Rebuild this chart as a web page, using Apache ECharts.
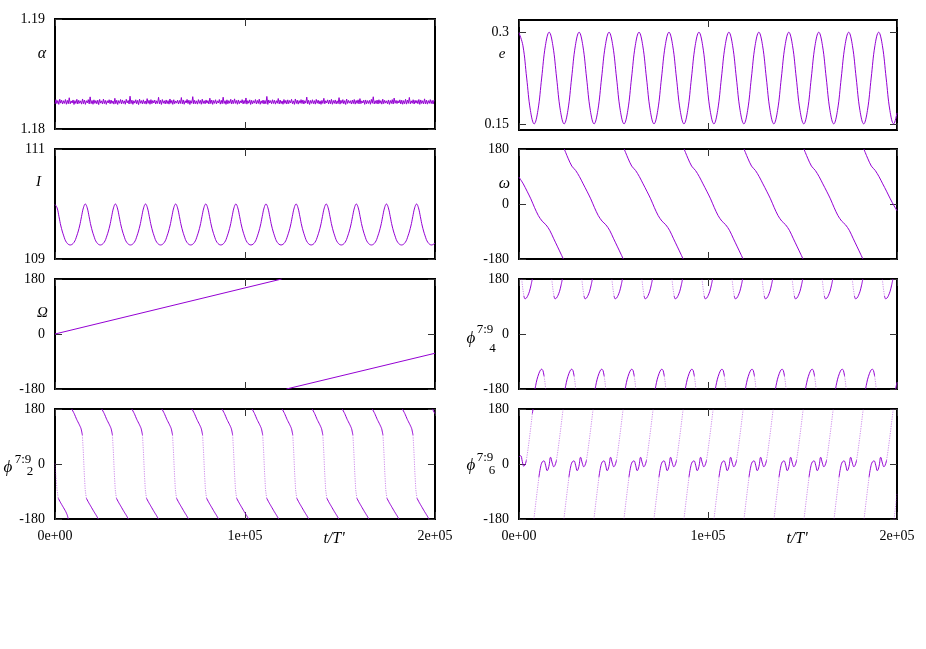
<!DOCTYPE html>
<html><head><meta charset="utf-8">
<script src="https://cdn.jsdelivr.net/npm/echarts@6/dist/echarts.min.js"></script>
<style>html,body{margin:0;padding:0;background:#fff}#c{width:926px;height:649px}</style>
</head><body><div id="c"></div>
<script>
// ---------- data ----------
const timeTicks = [0, 100000, 200000];
const alphaTicks = [1.18, 1.19];
const eTicks = [0.15, 0.3];
const incTicks = [109, 111];
const angleTicks = [-180, 0, 180];

const alphaStep = 500;
const alphaValues = [
1.18228,1.18266,1.18231,1.18259,1.18224,1.18271,1.18235,1.18262,1.18227,1.18257,
1.18233,1.18268,1.18225,1.18260,1.18230,1.18284,1.18229,1.18255,1.18236,1.18264,
1.18223,1.18258,1.18232,1.18270,1.18227,1.18261,1.18234,1.18256,1.18226,1.18273,
1.18230,1.18263,1.18224,1.18257,1.18237,1.18267,1.18228,1.18292,1.18231,1.18259,
1.18225,1.18265,1.18233,1.18258,1.18229,1.18262,1.18222,1.18269,1.18235,1.18256,
1.18227,1.18272,1.18231,1.18260,1.18224,1.18257,1.18236,1.18266,1.18229,1.18263,
1.18233,1.18255,1.18226,1.18279,1.18230,1.18261,1.18223,1.18258,1.18234,1.18268,
1.18228,1.18264,1.18232,1.18256,1.18225,1.18270,1.18237,1.18259,1.18227,1.18298,
1.18231,1.18262,1.18224,1.18257,1.18235,1.18266,1.18229,1.18260,1.18222,1.18271,
1.18234,1.18258,1.18228,1.18265,1.18231,1.18255,1.18226,1.18276,1.18233,1.18261,
1.18225,1.18267,1.18230,1.18259,1.18236,1.18263,1.18227,1.18256,1.18232,1.18288,
1.18229,1.18261,1.18223,1.18268,1.18234,1.18257,1.18228,1.18264,1.18231,1.18258,
1.18226,1.18273,1.18233,1.18260,1.18224,1.18266,1.18230,1.18255,1.18235,1.18262,
1.18227,1.18259,1.18232,1.18286,1.18229,1.18264,1.18225,1.18257,1.18236,1.18269,
1.18231,1.18262,1.18223,1.18258,1.18234,1.18294,1.18228,1.18261,1.18230,1.18256,
1.18226,1.18267,1.18233,1.18260,1.18225,1.18271,1.18232,1.18257,1.18229,1.18264,
1.18235,1.18258,1.18227,1.18280,1.18231,1.18263,1.18224,1.18259,1.18233,1.18266,
1.18228,1.18256,1.18236,1.18268,1.18226,1.18261,1.18230,1.18289,1.18232,1.18257,
1.18224,1.18265,1.18229,1.18258,1.18234,1.18270,1.18227,1.18262,1.18231,1.18274,
1.18233,1.18259,1.18225,1.18264,1.18230,1.18256,1.18236,1.18267,1.18228,1.18260,
1.18231,1.18282,1.18226,1.18258,1.18234,1.18265,1.18223,1.18261,1.18229,1.18257,
1.18235,1.18268,1.18228,1.18260,1.18232,1.18271,1.18225,1.18256,1.18233,1.18263,
1.18227,1.18259,1.18230,1.18296,1.18224,1.18264,1.18236,1.18258,1.18229,1.18266,
1.18232,1.18261,1.18226,1.18257,1.18234,1.18277,1.18228,1.18263,1.18231,1.18255,
1.18225,1.18268,1.18233,1.18260,1.18227,1.18265,1.18230,1.18259,1.18236,1.18270,
1.18229,1.18256,1.18224,1.18273,1.18232,1.18262,1.18226,1.18258,1.18234,1.18267,
1.18231,1.18264,1.18227,1.18257,1.18235,1.18290,1.18229,1.18261,1.18223,1.18259,
1.18233,1.18266,1.18230,1.18258,1.18226,1.18269,1.18234,1.18262,1.18228,1.18256,
1.18224,1.18260,1.18232,1.18279,1.18229,1.18257,1.18236,1.18265,1.18227,1.18263,
1.18230,1.18270,1.18225,1.18259,1.18233,1.18264,1.18228,1.18256,1.18231,1.18285,
1.18226,1.18261,1.18234,1.18267,1.18229,1.18258,1.18223,1.18272,1.18232,1.18260,
1.18235,1.18257,1.18227,1.18263,1.18231,1.18268,1.18226,1.18259,1.18233,1.18265,
1.18228,1.18276,1.18230,1.18256,1.18236,1.18262,1.18224,1.18264,1.18229,1.18258,
1.18232,1.18260,1.18225,1.18269,1.18234,1.18293,1.18228,1.18257,1.18231,1.18263,
1.18227,1.18266,1.18233,1.18258,1.18226,1.18271,1.18230,1.18261,1.18235,1.18256,
1.18229,1.18264,1.18224,1.18259,1.18232,1.18267,1.18227,1.18281,1.18234,1.18260,
1.18231,1.18257,1.18236,1.18265,1.18228,1.18262,1.18225,1.18258,1.18230,1.18270,
1.18226,1.18263,1.18233,1.18287,1.18229,1.18256,1.18234,1.18266,1.18227,1.18261,
1.18235,1.18259,1.18230,1.18268,1.18224,1.18264,1.18232,1.18257,1.18228,1.18274,
1.18229,1.18262,1.18226,1.18258,1.18233,1.18267,1.18231,1.18260,1.18227,1.18264
];

const eData = [
[0,0.299],[100,0.300],[2080,0.278],[4060,0.225],[6040,0.172],[8030,0.150],[10010,0.172],[11990,0.225],[13970,0.278],
[15950,0.300],[17930,0.278],[19910,0.225],[21890,0.172],[23880,0.150],[25860,0.172],[27840,0.225],[29820,0.278],
[31800,0.300],[33780,0.278],[35760,0.225],[37740,0.172],[39730,0.150],[41710,0.172],[43690,0.225],[45670,0.278],
[47650,0.300],[49630,0.278],[51610,0.225],[53590,0.172],[55580,0.150],[57560,0.172],[59540,0.225],[61520,0.278],
[63500,0.300],[65480,0.278],[67460,0.225],[69440,0.172],[71430,0.150],[73410,0.172],[75390,0.225],[77370,0.278],
[79350,0.300],[81330,0.278],[83310,0.225],[85290,0.172],[87280,0.150],[89260,0.172],[91240,0.225],[93220,0.278],
[95200,0.300],[97180,0.278],[99160,0.225],[101140,0.172],[103130,0.150],[105110,0.172],[107090,0.225],[109070,0.278],
[111050,0.300],[113030,0.278],[115010,0.225],[116990,0.172],[118980,0.150],[120960,0.172],[122940,0.225],[124920,0.278],
[126900,0.300],[128880,0.278],[130860,0.225],[132840,0.172],[134830,0.150],[136810,0.172],[138790,0.225],[140770,0.278],
[142750,0.300],[144730,0.278],[146710,0.225],[148690,0.172],[150680,0.150],[152660,0.172],[154640,0.225],[156620,0.278],
[158600,0.300],[160580,0.278],[162560,0.225],[164540,0.172],[166530,0.150],[168510,0.172],[170490,0.225],[172470,0.278],
[174450,0.300],[176430,0.278],[178410,0.225],[180390,0.172],[182380,0.150],[184360,0.172],[186340,0.225],[188320,0.278],
[190300,0.300],[192280,0.278],[194260,0.225],[196240,0.172],[198230,0.150],[200000,0.168]
];

const incData = [
[0,109.99],[100,110.00],[1100,109.93],[2100,109.77],[3100,109.60],[4600,109.42],[6100,109.30],[8025,109.255],[9950,109.30],[11450,109.42],[12950,109.60],[13950,109.77],[14950,109.93],
[15950,110.00],[16950,109.93],[17950,109.77],[18950,109.60],[20450,109.42],[21950,109.30],[23875,109.255],[25800,109.30],[27300,109.42],[28800,109.60],[29800,109.77],[30800,109.93],
[31800,110.00],[32800,109.93],[33800,109.77],[34800,109.60],[36300,109.42],[37800,109.30],[39725,109.255],[41650,109.30],[43150,109.42],[44650,109.60],[45650,109.77],[46650,109.93],
[47650,110.00],[48650,109.93],[49650,109.77],[50650,109.60],[52150,109.42],[53650,109.30],[55575,109.255],[57500,109.30],[59000,109.42],[60500,109.60],[61500,109.77],[62500,109.93],
[63500,110.00],[64500,109.93],[65500,109.77],[66500,109.60],[68000,109.42],[69500,109.30],[71425,109.255],[73350,109.30],[74850,109.42],[76350,109.60],[77350,109.77],[78350,109.93],
[79350,110.00],[80350,109.93],[81350,109.77],[82350,109.60],[83850,109.42],[85350,109.30],[87275,109.255],[89200,109.30],[90700,109.42],[92200,109.60],[93200,109.77],[94200,109.93],
[95200,110.00],[96200,109.93],[97200,109.77],[98200,109.60],[99700,109.42],[101200,109.30],[103125,109.255],[105050,109.30],[106550,109.42],[108050,109.60],[109050,109.77],[110050,109.93],
[111050,110.00],[112050,109.93],[113050,109.77],[114050,109.60],[115550,109.42],[117050,109.30],[118975,109.255],[120900,109.30],[122400,109.42],[123900,109.60],[124900,109.77],[125900,109.93],
[126900,110.00],[127900,109.93],[128900,109.77],[129900,109.60],[131400,109.42],[132900,109.30],[134825,109.255],[136750,109.30],[138250,109.42],[139750,109.60],[140750,109.77],[141750,109.93],
[142750,110.00],[143750,109.93],[144750,109.77],[145750,109.60],[147250,109.42],[148750,109.30],[150675,109.255],[152600,109.30],[154100,109.42],[155600,109.60],[156600,109.77],[157600,109.93],
[158600,110.00],[159600,109.93],[160600,109.77],[161600,109.60],[163100,109.42],[164600,109.30],[166525,109.255],[168450,109.30],[169950,109.42],[171450,109.60],[172450,109.77],[173450,109.93],
[174450,110.00],[175450,109.93],[176450,109.77],[177450,109.60],[178950,109.42],[180450,109.30],[182375,109.255],[184300,109.30],[185800,109.42],[187300,109.60],[188300,109.77],[189300,109.93],
[190300,110.00],[191300,109.93],[192300,109.77],[193300,109.60],[194800,109.42],[196300,109.30],[198225,109.255],[200000,109.29]
];

const omegaSegments = [
[[0,88],[2250,66],[4250,42],[6250,17],[8250,-12],[10250,-38],[12250,-56],[14250,-68],[16250,-86],[18250,-112],[20250,-138],[22250,-164],[23450,-180]],
[[23950,180],[25950,150],[27950,124],[29950,110],[31950,90],[33950,66],[35950,42],[37950,17],[39950,-12],[41950,-38],[43950,-56],[45950,-68],[47950,-86],[49950,-112],[51950,-138],[53950,-164],[55150,-180]],
[[55650,180],[57650,150],[59650,124],[61650,110],[63650,90],[65650,66],[67650,42],[69650,17],[71650,-12],[73650,-38],[75650,-56],[77650,-68],[79650,-86],[81650,-112],[83650,-138],[85650,-164],[86850,-180]],
[[87350,180],[89350,150],[91350,124],[93350,110],[95350,90],[97350,66],[99350,42],[101350,17],[103350,-12],[105350,-38],[107350,-56],[109350,-68],[111350,-86],[113350,-112],[115350,-138],[117350,-164],[118550,-180]],
[[119050,180],[121050,150],[123050,124],[125050,110],[127050,90],[129050,66],[131050,42],[133050,17],[135050,-12],[137050,-38],[139050,-56],[141050,-68],[143050,-86],[145050,-112],[147050,-138],[149050,-164],[150250,-180]],
[[150750,180],[152750,150],[154750,124],[156750,110],[158750,90],[160750,66],[162750,42],[164750,17],[166750,-12],[168750,-38],[170750,-56],[172750,-68],[174750,-86],[176750,-112],[178750,-138],[180750,-164],[181950,-180]],
[[182450,180],[184450,150],[186450,124],[188450,110],[190450,90],[192450,66],[194450,42],[196450,17],[198450,-6],[200000,-22]]
];

const nodeSegments = [
[[0,0],[119300,180]],
[[121800,-180],[200000,-63]]
];

const phi4Segments = [
[[1430,180],[1970,150],[2570,125],[3170,115],[3970,118],[4770,127],[5570,140],[6370,160],[7040,180]],
[[8460,-180],[9470,-150],[10470,-130],[11370,-118],[12000,-115],[12670,-120],[13270,-138],[13770,-160],[14100,-180]],
[[17330,180],[17870,150],[18470,125],[19070,115],[19870,118],[20670,127],[21470,140],[22270,160],[22940,180]],
[[24360,-180],[25370,-150],[26370,-130],[27270,-118],[27900,-115],[28570,-120],[29170,-138],[29670,-160],[30000,-180]],
[[33230,180],[33770,150],[34370,125],[34970,115],[35770,118],[36570,127],[37370,140],[38170,160],[38840,180]],
[[40260,-180],[41270,-150],[42270,-130],[43170,-118],[43800,-115],[44470,-120],[45070,-138],[45570,-160],[45900,-180]],
[[49130,180],[49670,150],[50270,125],[50870,115],[51670,118],[52470,127],[53270,140],[54070,160],[54740,180]],
[[56160,-180],[57170,-150],[58170,-130],[59070,-118],[59700,-115],[60370,-120],[60970,-138],[61470,-160],[61800,-180]],
[[65030,180],[65570,150],[66170,125],[66770,115],[67570,118],[68370,127],[69170,140],[69970,160],[70640,180]],
[[72060,-180],[73070,-150],[74070,-130],[74970,-118],[75600,-115],[76270,-120],[76870,-138],[77370,-160],[77700,-180]],
[[80930,180],[81470,150],[82070,125],[82670,115],[83470,118],[84270,127],[85070,140],[85870,160],[86540,180]],
[[87960,-180],[88970,-150],[89970,-130],[90870,-118],[91500,-115],[92170,-120],[92770,-138],[93270,-160],[93600,-180]],
[[96830,180],[97370,150],[97970,125],[98570,115],[99370,118],[100170,127],[100970,140],[101770,160],[102440,180]],
[[103860,-180],[104870,-150],[105870,-130],[106770,-118],[107400,-115],[108070,-120],[108670,-138],[109170,-160],[109500,-180]],
[[112730,180],[113270,150],[113870,125],[114470,115],[115270,118],[116070,127],[116870,140],[117670,160],[118340,180]],
[[119760,-180],[120770,-150],[121770,-130],[122670,-118],[123300,-115],[123970,-120],[124570,-138],[125070,-160],[125400,-180]],
[[128630,180],[129170,150],[129770,125],[130370,115],[131170,118],[131970,127],[132770,140],[133570,160],[134240,180]],
[[135660,-180],[136670,-150],[137670,-130],[138570,-118],[139200,-115],[139870,-120],[140470,-138],[140970,-160],[141300,-180]],
[[144530,180],[145070,150],[145670,125],[146270,115],[147070,118],[147870,127],[148670,140],[149470,160],[150140,180]],
[[151560,-180],[152570,-150],[153570,-130],[154470,-118],[155100,-115],[155770,-120],[156370,-138],[156870,-160],[157200,-180]],
[[160430,180],[160970,150],[161570,125],[162170,115],[162970,118],[163770,127],[164570,140],[165370,160],[166040,180]],
[[167460,-180],[168470,-150],[169470,-130],[170370,-118],[171000,-115],[171670,-120],[172270,-138],[172770,-160],[173100,-180]],
[[176330,180],[176870,150],[177470,125],[178070,115],[178870,118],[179670,127],[180470,140],[181270,160],[181940,180]],
[[183360,-180],[184370,-150],[185370,-130],[186270,-118],[186900,-115],[187570,-120],[188170,-138],[188670,-160],[189000,-180]],
[[192230,180],[192770,150],[193370,125],[193970,115],[194770,118],[195570,127],[196370,140],[197170,160],[197840,180]],
[[199260,-180],[200000,-158]]
];

const phi2Segments = [
[[0,2],[500,-40],[1000,-80],[1700,-112],[2800,-125],[4200,-140],[5600,-155],[6500,-168],[7000,-180]],
[[8800,180],[10100,165],[11400,146],[12700,130],[13700,116],[14400,95],[14900,40],[15400,-30],[15900,-85],[16500,-112],[17600,-125],[19000,-140],[20400,-155],[21700,-168],[22800,-180]],
[[24620,180],[25920,165],[27220,146],[28520,130],[29520,116],[30220,95],[30720,40],[31220,-30],[31720,-85],[32320,-112],[33420,-125],[34820,-140],[36220,-155],[37520,-168],[38620,-180]],
[[40440,180],[41740,165],[43040,146],[44340,130],[45340,116],[46040,95],[46540,40],[47040,-30],[47540,-85],[48140,-112],[49240,-125],[50640,-140],[52040,-155],[53340,-168],[54440,-180]],
[[56260,180],[57560,165],[58860,146],[60160,130],[61160,116],[61860,95],[62360,40],[62860,-30],[63360,-85],[63960,-112],[65060,-125],[66460,-140],[67860,-155],[69160,-168],[70260,-180]],
[[72080,180],[73380,165],[74680,146],[75980,130],[76980,116],[77680,95],[78180,40],[78680,-30],[79180,-85],[79780,-112],[80880,-125],[82280,-140],[83680,-155],[84980,-168],[86080,-180]],
[[87900,180],[89200,165],[90500,146],[91800,130],[92800,116],[93500,95],[94000,40],[94500,-30],[95000,-85],[95600,-112],[96700,-125],[98100,-140],[99500,-155],[100800,-168],[101900,-180]],
[[103720,180],[105020,165],[106320,146],[107620,130],[108620,116],[109320,95],[109820,40],[110320,-30],[110820,-85],[111420,-112],[112520,-125],[113920,-140],[115320,-155],[116620,-168],[117720,-180]],
[[119540,180],[120840,165],[122140,146],[123440,130],[124440,116],[125140,95],[125640,40],[126140,-30],[126640,-85],[127240,-112],[128340,-125],[129740,-140],[131140,-155],[132440,-168],[133540,-180]],
[[135360,180],[136660,165],[137960,146],[139260,130],[140260,116],[140960,95],[141460,40],[141960,-30],[142460,-85],[143060,-112],[144160,-125],[145560,-140],[146960,-155],[148260,-168],[149360,-180]],
[[151180,180],[152480,165],[153780,146],[155080,130],[156080,116],[156780,95],[157280,40],[157780,-30],[158280,-85],[158880,-112],[159980,-125],[161380,-140],[162780,-155],[164080,-168],[165180,-180]],
[[167000,180],[168300,165],[169600,146],[170900,130],[171900,116],[172600,95],[173100,40],[173600,-30],[174100,-85],[174700,-112],[175800,-125],[177200,-140],[178600,-155],[179900,-168],[181000,-180]],
[[182820,180],[184120,165],[185420,146],[186720,130],[187720,116],[188420,95],[188920,40],[189420,-30],[189920,-85],[190520,-112],[191620,-125],[193020,-140],[194420,-155],[195720,-168],[196820,-180]],
[[198640,180],[199940,165],[200000,164]]
];

const phi6Segments = [
[[0,23],[880,27],[1760,8],[2470,-7],[3170,-3],[3880,12],[4580,40],[5290,73],[6170,117],[7050,165],[7450,180]],
[[7900,-180],[9130,-114],[10540,-43],[11420,-10],[12310,7],[13190,10],[14070,-4],[14900,-22],[15800,-8],[16700,22],[17600,3],[18400,-9],[19100,-3],[19800,12],[20500,40],[21200,73],[22100,117],[22900,158],[23350,180]],
[[23780,-180],[25010,-114],[26420,-43],[27300,-10],[28190,7],[29070,10],[29950,-4],[30780,-22],[31680,-8],[32580,22],[33480,3],[34280,-9],[34980,-3],[35680,12],[36380,40],[37080,73],[37980,117],[38780,158],[39230,180]],
[[39660,-180],[40890,-114],[42300,-43],[43180,-10],[44070,7],[44950,10],[45830,-4],[46660,-22],[47560,-8],[48460,22],[49360,3],[50160,-9],[50860,-3],[51560,12],[52260,40],[52960,73],[53860,117],[54660,158],[55110,180]],
[[55540,-180],[56770,-114],[58180,-43],[59060,-10],[59950,7],[60830,10],[61710,-4],[62540,-22],[63440,-8],[64340,22],[65240,3],[66040,-9],[66740,-3],[67440,12],[68140,40],[68840,73],[69740,117],[70540,158],[70990,180]],
[[71420,-180],[72650,-114],[74060,-43],[74940,-10],[75830,7],[76710,10],[77590,-4],[78420,-22],[79320,-8],[80220,22],[81120,3],[81920,-9],[82620,-3],[83320,12],[84020,40],[84720,73],[85620,117],[86420,158],[86870,180]],
[[87300,-180],[88530,-114],[89940,-43],[90820,-10],[91710,7],[92590,10],[93470,-4],[94300,-22],[95200,-8],[96100,22],[97000,3],[97800,-9],[98500,-3],[99200,12],[99900,40],[100600,73],[101500,117],[102300,158],[102750,180]],
[[103180,-180],[104410,-114],[105820,-43],[106700,-10],[107590,7],[108470,10],[109350,-4],[110180,-22],[111080,-8],[111980,22],[112880,3],[113680,-9],[114380,-3],[115080,12],[115780,40],[116480,73],[117380,117],[118180,158],[118630,180]],
[[119060,-180],[120290,-114],[121700,-43],[122580,-10],[123470,7],[124350,10],[125230,-4],[126060,-22],[126960,-8],[127860,22],[128760,3],[129560,-9],[130260,-3],[130960,12],[131660,40],[132360,73],[133260,117],[134060,158],[134510,180]],
[[134940,-180],[136170,-114],[137580,-43],[138460,-10],[139350,7],[140230,10],[141110,-4],[141940,-22],[142840,-8],[143740,22],[144640,3],[145440,-9],[146140,-3],[146840,12],[147540,40],[148240,73],[149140,117],[149940,158],[150390,180]],
[[150820,-180],[152050,-114],[153460,-43],[154340,-10],[155230,7],[156110,10],[156990,-4],[157820,-22],[158720,-8],[159620,22],[160520,3],[161320,-9],[162020,-3],[162720,12],[163420,40],[164120,73],[165020,117],[165820,158],[166270,180]],
[[166700,-180],[167930,-114],[169340,-43],[170220,-10],[171110,7],[171990,10],[172870,-4],[173700,-22],[174600,-8],[175500,22],[176400,3],[177200,-9],[177900,-3],[178600,12],[179300,40],[180000,73],[180900,117],[181700,158],[182150,180]],
[[182580,-180],[183810,-114],[185220,-43],[186100,-10],[186990,7],[187870,10],[188750,-4],[189580,-22],[190480,-8],[191380,22],[192280,3],[193080,-9],[193780,-3],[194480,12],[195180,40],[195880,73],[196780,117],[197580,158],[198030,180]],
[[198460,-180],[199690,-114],[200000,-98]]
];

// ---------- helpers ----------
function joinSegments(segs) {
  const out = [];
  segs.forEach((s, i) => {
    if (i > 0) out.push([s[0][0], '-']);
    s.forEach(p => out.push(p));
  });
  return out;
}
// split each branch into slowly varying (solid) and fast (faint, sparsely sampled) pieces
function splitBySpeed(segs, thr) {
  const slow = [], fast = [];
  segs.forEach(s => {
    let cur = null, curFast = null;
    for (let i = 1; i < s.length; i++) {
      const a = s[i - 1], b = s[i];
      const isFast = Math.abs((b[1] - a[1]) / (b[0] - a[0])) > thr;
      if (cur === null || isFast !== curFast) {
        if (cur) (curFast ? fast : slow).push(cur);
        cur = [a, b]; curFast = isFast;
      } else cur.push(b);
    }
    if (cur) (curFast ? fast : slow).push(cur);
  });
  return {slow: joinSegments(slow), fast: joinSegments(fast)};
}
function expFmt(v) {
  if (v === 0) return '0e+00';
  const e = Math.floor(Math.log10(Math.abs(v)) + 1e-9);
  const m = Math.round(v / Math.pow(10, e));
  return m + 'e+' + String(e).padStart(2, '0');
}

const FONT = '"Liberation Serif","Times New Roman",serif';
const LINE = '#9400d3';
const TICK = '#333';

const phi4Parts = splitBySpeed(phi4Segments, 0.035);
const phi2Parts = splitBySpeed(phi2Segments, 0.035);
const phi6Parts = splitBySpeed(phi6Segments, 0.039);

const panels = [
  {pos:{left:55, top:19, width:380, height:110},  min:1.18, max:1.19, ticks:alphaTicks, fmt:v=>v.toFixed(2), data:alphaValues.map((v,i)=>[i*alphaStep, v]), smooth:false},
  {pos:{left:519, top:20, width:378, height:110}, min:0.14, max:0.32, ticks:eTicks, fmt:v=>String(+v.toFixed(2)), data:eData, smooth:0.4},
  {pos:{left:55, top:149, width:380, height:110}, min:109, max:111, ticks:incTicks, fmt:v=>String(Math.round(v)), data:incData, smooth:0.4},
  {pos:{left:519, top:149, width:378, height:110}, min:-180, max:180, ticks:angleTicks, fmt:v=>String(v), data:joinSegments(omegaSegments), smooth:0.3},
  {pos:{left:55, top:279, width:380, height:110}, min:-180, max:180, ticks:angleTicks, fmt:v=>String(v), data:joinSegments(nodeSegments), smooth:false},
  {pos:{left:519, top:279, width:378, height:110}, min:-180, max:180, ticks:angleTicks, fmt:v=>String(v), data:phi4Parts.slow, faint:phi4Parts.fast, smooth:0.3},
  {pos:{left:55, top:409, width:380, height:110}, min:-180, max:180, ticks:angleTicks, fmt:v=>String(v), data:phi2Parts.slow, faint:phi2Parts.fast, smooth:0.2},
  {pos:{left:519, top:409, width:378, height:110}, min:-180, max:180, ticks:angleTicks, fmt:v=>String(v), data:phi6Parts.slow, faint:phi6Parts.fast, smooth:0.45}
];

const grid = [], xAxis = [], yAxis = [], series = [];
panels.forEach(p => {
  grid.push(Object.assign({show:true, borderColor:'#000', borderWidth:2, backgroundColor:'transparent', containLabel:false, outerBoundsMode:'none'}, p.pos));
});
const tickStyle = {show:true, inside:true, length:7, lineStyle:{color:TICK, width:1}};
const noLine = {show:false, onZero:false};
panels.forEach((p, i) => {
  xAxis.push({gridIndex:i, type:'value', position:'bottom', min:timeTicks[0], max:timeTicks[2], interval:timeTicks[1]-timeTicks[0],
    axisLine:noLine, splitLine:{show:false}, axisTick:tickStyle,
    axisLabel:{show:i>=6, margin:10, color:'#000', fontFamily:FONT, fontSize:14, formatter:expFmt, showMinLabel:true, showMaxLabel:true}});
  yAxis.push({gridIndex:i, type:'value', position:'left', min:p.min, max:p.max, interval:(p.ticks.length===3?180:undefined),
    axisLine:noLine, splitLine:{show:false},
    axisTick:Object.assign({customValues:p.ticks}, tickStyle),
    axisLabel:{show:true, margin:10, color:'#000', fontFamily:FONT, fontSize:14, customValues:p.ticks, formatter:p.fmt, showMinLabel:true, showMaxLabel:true}});
});
panels.forEach((p, i) => {
  xAxis.push({gridIndex:i, type:'value', position:'top', min:timeTicks[0], max:timeTicks[2], interval:timeTicks[1]-timeTicks[0],
    axisLine:noLine, splitLine:{show:false}, axisTick:tickStyle, axisLabel:{show:false}});
  yAxis.push({gridIndex:i, type:'value', position:'right', min:p.min, max:p.max, interval:(p.ticks.length===3?180:undefined),
    axisLine:noLine, splitLine:{show:false},
    axisTick:Object.assign({customValues:p.ticks}, tickStyle), axisLabel:{show:false, customValues:p.ticks}});
});
panels.forEach((p, i) => {
  series.push({type:'line', xAxisIndex:i, yAxisIndex:i, data:p.data, showSymbol:false, symbol:'none',
    smooth:p.smooth, connectNulls:false, clip:true, silent:true, animation:false,
    lineStyle:{color:LINE, width:1}});
  if (p.faint) {
    series.push({type:'line', xAxisIndex:i, yAxisIndex:i, data:p.faint, showSymbol:false, symbol:'none',
      smooth:false, connectNulls:false, clip:true, silent:true, animation:false,
      lineStyle:{color:LINE, width:1, opacity:0.45, type:[1.2, 1.2]}});
  }
});

function txt(x, y, text, size, italic) {
  return {type:'text', x:x, y:y, silent:true,
    style:{text:text, font:(italic?'italic ':'')+size+'px '+FONT, fill:'#000',
      align:'center', verticalAlign:'middle', textAlign:'center', textVerticalAlign:'middle'}};
}
const graphic = [
  txt(42, 54, 'α', 16, true),
  txt(502, 54, 'e', 15, true),
  txt(38.5, 182, 'I', 15, true),
  txt(504.5, 184, 'ω', 16, true),
  txt(42.5, 313, 'Ω', 15, true),
  txt(471, 339, 'ϕ', 17, true), txt(485, 330, '7:9', 13, false), txt(492.5, 349, '4', 13, false),
  txt(8, 468, 'ϕ', 17, true), txt(23, 460, '7:9', 13, false), txt(30, 472, '2', 13, false),
  txt(471, 466, 'ϕ', 17, true), txt(485, 458, '7:9', 13, false), txt(492, 471, '6', 13, false),
  txt(334, 539, "t/T'", 16, true),
  txt(797, 539, "t/T'", 16, true)
];

const chart = echarts.init(document.getElementById('c'), null, {renderer:'canvas'});
chart.setOption({backgroundColor:'#fff', animation:false, grid, xAxis, yAxis, series, graphic});
</script>
</body></html>
